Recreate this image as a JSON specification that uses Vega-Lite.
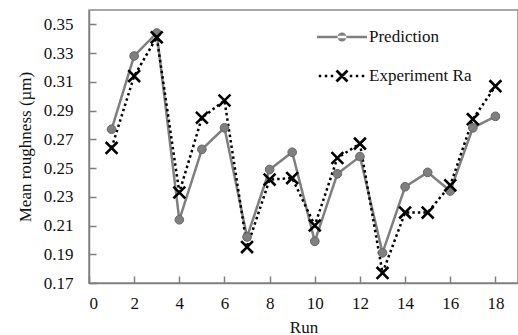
{
  "$schema": "https://vega.github.io/schema/vega-lite/v6.json",
  "width": 429,
  "height": 273,
  "autosize": {"type": "none"},
  "padding": {"left": 89, "top": 10, "right": 0, "bottom": 52},
  "background": "white",
  "config": {
    "view": {"stroke": "#8a8a8a", "strokeWidth": 1.5},
    "font": "Liberation Serif",
    "axis": {
      "grid": false,
      "domainColor": "#7f7f7f",
      "domainWidth": 1.5,
      "tickColor": "#7f7f7f",
      "tickWidth": 1.5,
      "labelFont": "Liberation Serif",
      "labelFontSize": 17,
      "labelColor": "#111",
      "titleFont": "Liberation Serif",
      "titleFontSize": 17,
      "titleFontWeight": "normal",
      "titleColor": "#111"
    }
  },
  "datasets": {
    "d": [
      {"run": 1, "value": 0.277, "series": "Prediction"},
      {"run": 2, "value": 0.328, "series": "Prediction"},
      {"run": 3, "value": 0.344, "series": "Prediction"},
      {"run": 4, "value": 0.214, "series": "Prediction"},
      {"run": 5, "value": 0.263, "series": "Prediction"},
      {"run": 6, "value": 0.278, "series": "Prediction"},
      {"run": 7, "value": 0.202, "series": "Prediction"},
      {"run": 8, "value": 0.249, "series": "Prediction"},
      {"run": 9, "value": 0.261, "series": "Prediction"},
      {"run": 10, "value": 0.199, "series": "Prediction"},
      {"run": 11, "value": 0.246, "series": "Prediction"},
      {"run": 12, "value": 0.258, "series": "Prediction"},
      {"run": 13, "value": 0.191, "series": "Prediction"},
      {"run": 14, "value": 0.237, "series": "Prediction"},
      {"run": 15, "value": 0.247, "series": "Prediction"},
      {"run": 16, "value": 0.234, "series": "Prediction"},
      {"run": 17, "value": 0.278, "series": "Prediction"},
      {"run": 18, "value": 0.286, "series": "Prediction"},
      {"run": 1, "value": 0.264, "series": "Experiment Ra"},
      {"run": 2, "value": 0.314, "series": "Experiment Ra"},
      {"run": 3, "value": 0.341, "series": "Experiment Ra"},
      {"run": 4, "value": 0.233, "series": "Experiment Ra"},
      {"run": 5, "value": 0.285, "series": "Experiment Ra"},
      {"run": 6, "value": 0.297, "series": "Experiment Ra"},
      {"run": 7, "value": 0.195, "series": "Experiment Ra"},
      {"run": 8, "value": 0.242, "series": "Experiment Ra"},
      {"run": 9, "value": 0.243, "series": "Experiment Ra"},
      {"run": 10, "value": 0.210, "series": "Experiment Ra"},
      {"run": 11, "value": 0.257, "series": "Experiment Ra"},
      {"run": 12, "value": 0.267, "series": "Experiment Ra"},
      {"run": 13, "value": 0.177, "series": "Experiment Ra"},
      {"run": 14, "value": 0.219, "series": "Experiment Ra"},
      {"run": 15, "value": 0.219, "series": "Experiment Ra"},
      {"run": 16, "value": 0.238, "series": "Experiment Ra"},
      {"run": 17, "value": 0.284, "series": "Experiment Ra"},
      {"run": 18, "value": 0.307, "series": "Experiment Ra"}
    ]
  },
  "data": {"name": "d"},
  "encoding": {
    "x": {
      "field": "run", "type": "quantitative",
      "scale": {"domain": [0, 19], "nice": false, "zero": false},
      "axis": {"values": [0, 2, 4, 6, 8, 10, 12, 14, 16, 18], "title": "Run", "tickSize": -7, "labelPadding": 19, "titlePadding": 8}
    },
    "y": {
      "field": "value", "type": "quantitative",
      "scale": {"domain": [0.17, 0.36], "nice": false, "zero": false},
      "axis": {"values": [0.17, 0.19, 0.21, 0.23, 0.25, 0.27, 0.29, 0.31, 0.33, 0.35], "format": ".2f", "title": "Mean roughness (µm)", "tickSize": -7, "labelPadding": 23, "titlePadding": 9}
    },
    "color": {
      "field": "series", "type": "nominal",
      "scale": {"domain": ["Prediction", "Experiment Ra"], "range": ["#7f7f7f", "#000000"]},
      "legend": {
        "title": null,
        "orient": "none",
        "legendX": 238,
        "legendY": 12,
        "padding": 0,
        "symbolSize": 900,
        "labelOffset": 12,
        "rowPadding": 16,
        "labelFont": "Liberation Serif",
        "labelFontSize": 17,
        "labelColor": "#111",
        "labelLimit": 300,
        "encode": {
          "symbols": {
            "update": {
              "shape": {"signal": "datum.value === 'Prediction' ? 'M-1.667,-0.083H1.667V0.083H-1.667Z M-0.3,0A0.3,0.3 0 1,0 0.3,0A0.3,0.3 0 1,0 -0.3,0Z' : 'M-1.55,-0.083h0.167v0.167h-0.167Z M-1.15,-0.083h0.167v0.167h-0.167Z M-0.75,-0.083h0.167v0.167h-0.167Z M0.517,-0.083h0.167v0.167h-0.167Z M0.917,-0.083h0.167v0.167h-0.167Z M1.317,-0.083h0.167v0.167h-0.167Z M-0.301,-0.433L0.433,0.301L0.301,0.433L-0.433,-0.301Z M-0.433,0.301L0.301,-0.433L0.433,-0.301L-0.301,0.433Z'"},
              "fill": {"signal": "datum.value === 'Prediction' ? '#7f7f7f' : '#000000'"},
              "fillOpacity": {"value": 1},
              "stroke": {"value": "transparent"},
              "strokeWidth": {"value": 0},
              "size": {"value": 900}
            }
          }
        }
      }
    }
  },
  "layer": [
    {
      "transform": [{"filter": "datum.series === 'Prediction'"}],
      "mark": {"type": "line", "strokeWidth": 2.5}
    },
    {
      "transform": [{"filter": "datum.series === 'Experiment Ra'"}],
      "mark": {"type": "line", "strokeWidth": 2.5, "strokeDash": [2.5, 3]}
    },
    {
      "transform": [{"filter": "datum.series === 'Prediction'"}],
      "mark": {"type": "point", "shape": "circle", "filled": true, "size": 75, "opacity": 1, "stroke": "#666666", "strokeWidth": 1}
    },
    {
      "transform": [{"filter": "datum.series === 'Experiment Ra'"}],
      "mark": {"type": "point", "shape": "M-1,-1L1,1M-1,1L1,-1", "filled": false, "size": 140, "opacity": 1, "strokeWidth": 2.6}
    }
  ]
}
